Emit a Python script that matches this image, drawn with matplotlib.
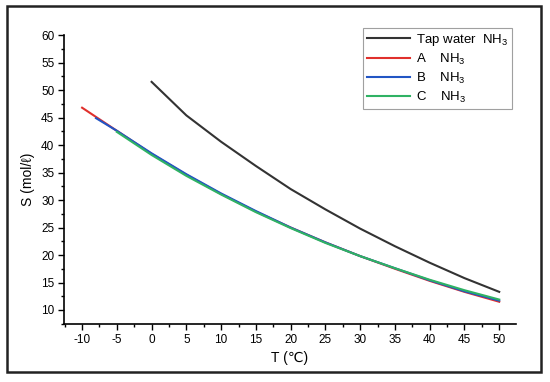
import matplotlib
matplotlib.use("Agg")
import matplotlib.pyplot as plt
from matplotlib.patches import Rectangle
from matplotlib.ticker import MultipleLocator

# ---------------- data ----------------
T_tap = [0, 5, 10, 15, 20, 25, 30, 35, 40, 45, 50]
S_tap = [51.5, 45.4, 40.6, 36.2, 32.0, 28.3, 24.8, 21.6, 18.6, 15.8, 13.3]

T_A = [-10, -5, 0, 5, 10, 15, 20, 25, 30, 35, 40, 45, 50]
S_A = [46.8, 42.6, 38.4, 34.6, 31.1, 27.9, 25.0, 22.3, 19.8, 17.5, 15.3, 13.3, 11.5]

T_B = [-8, -5, 0, 5, 10, 15, 20, 25, 30, 35, 40, 45, 50]
S_B = [44.9, 42.6, 38.5, 34.7, 31.2, 28.0, 25.0, 22.3, 19.8, 17.6, 15.4, 13.4, 11.7]

T_C = [-5, 0, 5, 10, 15, 20, 25, 30, 35, 40, 45, 50]
S_C = [42.4, 38.2, 34.4, 31.0, 27.8, 24.9, 22.2, 19.8, 17.6, 15.5, 13.6, 11.9]

labels = ["Tap water  NH$_3$", "A    NH$_3$", "B    NH$_3$", "C    NH$_3$"]
colors = ["#333333", "#e0302c", "#2255c4", "#2fb264"]

# ---------------- style ----------------
plt.rcParams["font.family"] = ["Liberation Sans", "DejaVu Sans"]
plt.rcParams["mathtext.default"] = "regular"
plt.rcParams["axes.unicode_minus"] = False

fig = plt.figure(figsize=(5.5, 3.82), dpi=100)
ax = fig.add_axes([0.1164, 0.1518, 0.8216, 0.7562])

series = [(T_tap, S_tap), (T_A, S_A), (T_B, S_B), (T_C, S_C)]
for (t, s), lab, c in zip(series, labels, colors):
    ax.plot(t, s, color=c, lw=1.5, label=lab)

ax.set_xlim(-12.6, 52.4)
ax.set_ylim(7.45, 60)
ax.xaxis.set_major_locator(MultipleLocator(5))
ax.xaxis.set_minor_locator(MultipleLocator(2.5))
ax.yaxis.set_major_locator(MultipleLocator(5))
ax.yaxis.set_minor_locator(MultipleLocator(2.5))
ax.set_xticks(range(-10, 55, 5))
ax.set_yticks(range(10, 65, 5))
ax.tick_params(which="major", direction="out", length=4, width=1, labelsize=8.5, pad=3)
ax.tick_params(which="minor", direction="out", length=2.5, width=1)

for side in ["top", "right"]:
    ax.spines[side].set_visible(False)
for side in ["left", "bottom"]:
    ax.spines[side].set_linewidth(1.2)

ax.set_xlabel("T (℃)", fontsize=10, labelpad=4)
ax.set_ylabel("S (mol/ℓ)", fontsize=10, labelpad=4)

# legend box placed in figure pixels: right edge 512, top edge 28
leg = ax.legend(loc="upper right", bbox_to_anchor=(512 / 550, 1 - 28 / 382),
                bbox_transform=fig.transFigure, fontsize=9.5,
                frameon=True, fancybox=False, edgecolor="#888888",
                handlelength=3.3, handletextpad=0.4, labelspacing=0.3,
                borderpad=0.3, borderaxespad=0)
leg.get_frame().set_linewidth(0.8)

# outer frame around the whole picture
fig.patches.append(Rectangle((7 / 550, 10 / 382), 534 / 550, 366 / 382,
                             transform=fig.transFigure, fill=False,
                             edgecolor="#222222", linewidth=1.8))

fig.savefig("out.png", dpi=100)
